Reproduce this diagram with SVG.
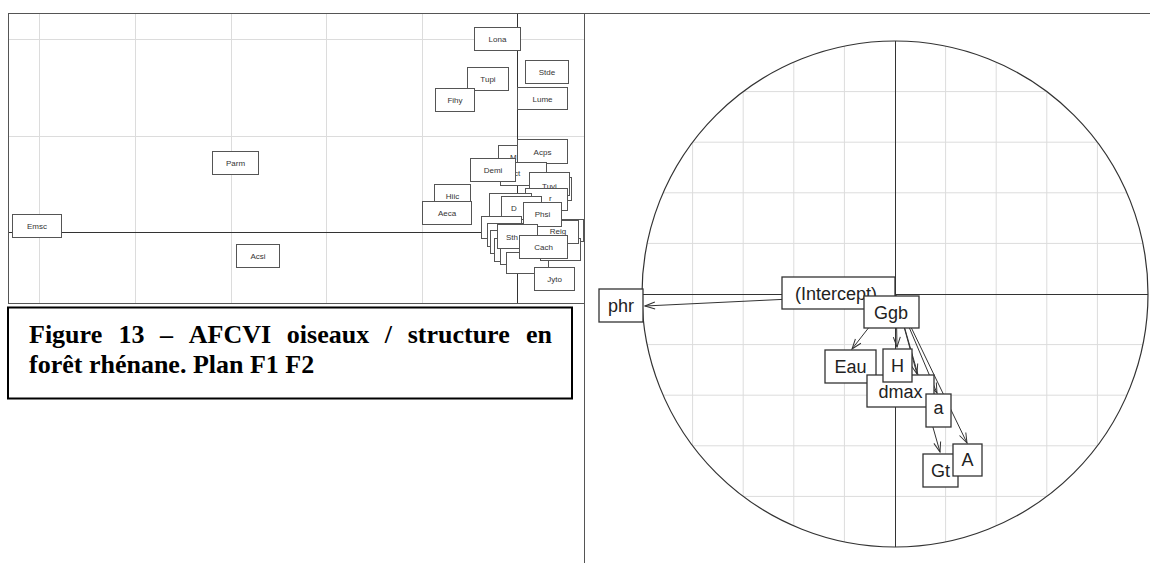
<svg xmlns="http://www.w3.org/2000/svg" width="1150" height="563" viewBox="0 0 1150 563">
  <style>
    .grid { stroke: #dcdcdc; stroke-width: 1; fill: none; }
    .axis { stroke: #333; stroke-width: 1; fill: none; }
    .frame { stroke: #555; stroke-width: 1; fill: none; }
    .lb { fill: #fff; stroke: #555; stroke-width: 1; }
    .lt { font-family: "Liberation Sans", Arial, sans-serif; font-size: 8px; fill: #333; text-anchor: middle; }
    .lf { font-family: "Liberation Sans", Arial, sans-serif; font-size: 8px; fill: #333; }
    .rb { fill: #fff; stroke: #333; stroke-width: 1.3; }
    .rt { font-family: "Liberation Sans", Arial, sans-serif; font-size: 18px; fill: #222; text-anchor: middle; }
    .arr { stroke: #333; stroke-width: 1; fill: none; marker-end: url(#head); }
    .cap { font-family: "Liberation Serif", "Times New Roman", serif; font-size: 26px; font-weight: bold; fill: #000; }
  </style>
  <defs>
    <marker id="head" markerUnits="userSpaceOnUse" viewBox="-11 -5 12 10" refX="0" refY="0" markerWidth="12" markerHeight="10" orient="auto">
      <path d="M-10,-3.5 L0,0 L-10,3.5" fill="none" stroke="#333" stroke-width="1"/>
    </marker>
    <clipPath id="disc">
      <circle cx="895" cy="294" r="253"/>
    </clipPath>
  </defs>

  <rect width="1150" height="563" fill="#fff"/>

  <!-- ============ Left plot: factorial map F1 x F2 ============ -->
  <g id="left-plot">
    <g id="left-grid" class="grid">
      <line x1="39.5" y1="14" x2="39.5" y2="303"/>
      <line x1="135.5" y1="14" x2="135.5" y2="303"/>
      <line x1="231.5" y1="14" x2="231.5" y2="303"/>
      <line x1="326.5" y1="14" x2="326.5" y2="303"/>
      <line x1="422.5" y1="14" x2="422.5" y2="303"/>
      <line x1="8" y1="39.5" x2="584" y2="39.5"/>
      <line x1="8" y1="136.5" x2="584" y2="136.5"/>
    </g>
    <g id="left-axes" class="axis">
      <line x1="8" y1="232.5" x2="584" y2="232.5"/>
      <line x1="517.5" y1="13" x2="517.5" y2="303"/>
    </g>
    <g id="left-frame" class="frame">
      <line x1="8.5" y1="13" x2="8.5" y2="303.5"/>
      <line x1="8" y1="303.5" x2="584" y2="303.5"/>
    </g>
  </g>

  <g id="species-labels">
    <g id="n-Lona"><rect class="lb" x="474.5" y="27.5" width="46" height="23"/><text class="lt" x="497.5" y="42">Lona</text></g>
    <g id="n-Stde"><rect class="lb" x="525.5" y="60.5" width="43" height="23"/><text class="lt" x="547" y="75">Stde</text></g>
    <g id="n-Tupi"><rect class="lb" x="467.5" y="67.5" width="41" height="23"/><text class="lt" x="488" y="82">Tupi</text></g>
    <g id="n-Fihy"><rect class="lb" x="435.5" y="88.5" width="39" height="23"/><text class="lt" x="455" y="103">Fihy</text></g>
    <g id="n-Lume"><rect class="lb" x="517.5" y="87.5" width="50" height="22"/><text class="lt" x="542.5" y="101.5">Lume</text></g>
    <g id="n-Parm"><rect class="lb" x="212.5" y="151.5" width="46" height="23"/><text class="lt" x="235.5" y="166">Parm</text></g>
    <g id="n-Emsc"><rect class="lb" x="12.5" y="214.5" width="49" height="23"/><text class="lt" x="37" y="229">Emsc</text></g>
    <g id="n-Acsi"><rect class="lb" x="236.5" y="244.5" width="43" height="23"/><text class="lt" x="258" y="259">Acsi</text></g>
    <g id="n-Hiic"><rect class="lb" x="434.5" y="184.5" width="36" height="22"/><text class="lt" x="452.5" y="199">Hiic</text></g>
    <g id="n-Aeca"><rect class="lb" x="422.5" y="201.5" width="49" height="23"/><text class="lt" x="447" y="216">Aeca</text></g>

    <!-- dense cluster near the origin, drawn back to front -->
    <g id="n-M"><rect class="lb" x="498.5" y="145.5" width="44" height="23"/><text class="lf" x="510" y="160">M</text></g>
    <g id="n-Acps"><rect class="lb" x="517.5" y="139.5" width="50" height="24"/><text class="lt" x="542.5" y="154.5">Acps</text></g>
    <g id="n-ct"><rect class="lb" x="500.5" y="162.5" width="46" height="23"/><text class="lf" x="514" y="176">ct</text></g>
    <g id="n-Demi"><rect class="lb" x="470.5" y="158.5" width="45" height="23"/><text class="lt" x="493" y="173">Demi</text></g>
    <g id="n-c1"><rect class="lb" x="531.5" y="177.5" width="40" height="23"/></g>
    <g id="n-Tuvi"><rect class="lb" x="529.5" y="172.5" width="40" height="23"/><text class="lt" x="549.5" y="188.5">Tuvi</text></g>
    <g id="n-r"><rect class="lb" x="525.5" y="188.5" width="42" height="22"/><text class="lf" x="549" y="201">r</text></g>
    <g id="n-c2"><rect class="lb" x="489.5" y="193.5" width="42" height="23"/></g>
    <g id="n-D"><rect class="lb" x="501.5" y="196.5" width="40" height="23"/><text class="lf" x="511" y="211">D</text></g>
    <g id="n-c3"><rect class="lb" x="481.5" y="216.5" width="40" height="22"/></g>
    <g id="n-c4"><rect class="lb" x="487.5" y="223.5" width="40" height="23"/></g>
    <g id="n-c5"><rect class="lb" x="490.5" y="230.5" width="40" height="23"/></g>
    <g id="n-c6"><rect class="lb" x="494.5" y="238.5" width="40" height="23"/></g>
    <g id="n-c7"><rect class="lb" x="500.5" y="242.5" width="44" height="22"/></g>
    <g id="n-c8"><rect class="lb" x="506.5" y="252.5" width="42" height="21"/></g>
    <g id="n-c9"><rect class="lb" x="544.5" y="219.5" width="39" height="22"/></g>
    <g id="n-c10"><rect class="lb" x="540.5" y="238.5" width="40" height="22"/></g>
    <g id="n-Reig"><rect class="lb" x="537.5" y="220.5" width="41" height="23"/><text class="lt" x="558" y="234">Reig</text></g>
    <g id="n-Phsi"><rect class="lb" x="523.5" y="202.5" width="38" height="24"/><text class="lt" x="542.5" y="217">Phsi</text></g>
    <g id="n-St"><rect class="lb" x="497.5" y="224.5" width="40" height="24"/><text class="lf" x="506" y="240">Sth</text></g>
    <g id="n-Cach"><rect class="lb" x="519.5" y="235.5" width="48" height="23"/><text class="lt" x="543.5" y="250">Cach</text></g>
    <g id="n-Jyto"><rect class="lb" x="534.5" y="267.5" width="40" height="23"/><text class="lt" x="554.5" y="282">Jyto</text></g>
  </g>

  <!-- ============ Caption ============ -->
  <g id="caption">
    <rect x="8" y="307.5" width="564" height="91" fill="#fff" stroke="#000" stroke-width="2"/>
    <text class="cap" y="343">
      <tspan x="29">Figure</tspan><tspan x="118.4">13</tspan><tspan x="160.1">–</tspan><tspan x="188.8">AFCVI</tspan><tspan x="286.8">oiseaux</tspan><tspan x="384.8">/</tspan><tspan x="407.7">structure</tspan><tspan x="525.9">en</tspan>
    </text>
    <text class="cap" x="29" y="373">forêt rhénane. Plan F1 F2</text>
  </g>

  <!-- ============ Panel frame ============ -->
  <g id="frame" class="frame">
    <line x1="8" y1="13.5" x2="1150" y2="13.5"/>
    <line x1="584.5" y1="13" x2="584.5" y2="563"/>
  </g>

  <!-- ============ Right plot: correlation circle ============ -->
  <g id="right-plot">
    <g id="circle-grid" class="grid" clip-path="url(#disc)">
      <line x1="692.6" y1="30" x2="692.6" y2="560"/>
      <line x1="743.2" y1="30" x2="743.2" y2="560"/>
      <line x1="793.8" y1="30" x2="793.8" y2="560"/>
      <line x1="844.4" y1="30" x2="844.4" y2="560"/>
      <line x1="945.6" y1="30" x2="945.6" y2="560"/>
      <line x1="996.2" y1="30" x2="996.2" y2="560"/>
      <line x1="1046.8" y1="30" x2="1046.8" y2="560"/>
      <line x1="1097.4" y1="30" x2="1097.4" y2="560"/>
      <line x1="630" y1="91.6" x2="1150" y2="91.6"/>
      <line x1="630" y1="142.2" x2="1150" y2="142.2"/>
      <line x1="630" y1="192.8" x2="1150" y2="192.8"/>
      <line x1="630" y1="243.4" x2="1150" y2="243.4"/>
      <line x1="630" y1="344.6" x2="1150" y2="344.6"/>
      <line x1="630" y1="395.2" x2="1150" y2="395.2"/>
      <line x1="630" y1="445.8" x2="1150" y2="445.8"/>
      <line x1="630" y1="496.4" x2="1150" y2="496.4"/>
    </g>
    <circle cx="895" cy="294" r="253" fill="none" stroke="#333" stroke-width="1.2"/>
    <g id="circle-axes" class="axis">
      <line x1="642" y1="294.5" x2="1148" y2="294.5"/>
      <line x1="895.5" y1="41" x2="895.5" y2="547"/>
    </g>
  </g>

  <g id="connectors">
    <line class="arr" x1="895" y1="294" x2="645" y2="306"/>
    <line class="arr" x1="895" y1="294" x2="852" y2="349"/>
    <line class="arr" x1="896" y1="294" x2="897" y2="347"/>
    <line class="arr" x1="895" y1="294" x2="917" y2="374"/>
    <line class="arr" x1="895" y1="294" x2="937" y2="393"/>
    <line class="arr" x1="895" y1="294" x2="940" y2="452"/>
    <line class="arr" x1="895" y1="294" x2="967" y2="443"/>
  </g>

  <g id="variable-labels">
    <g id="v-phr"><rect class="rb" x="599" y="289" width="44" height="33"/><text class="rt" x="621" y="312">phr</text></g>
    <g id="v-intercept"><rect class="rb" x="782" y="277" width="113" height="32"/><text class="rt" x="836" y="300">(Intercept)</text></g>
    <g id="v-Ggb"><rect class="rb" x="864" y="296" width="55" height="32"/><text class="rt" x="891" y="318.5">Ggb</text></g>
    <g id="v-Eau"><rect class="rb" x="825" y="350" width="51" height="33"/><text class="rt" x="850.5" y="373">Eau</text></g>
    <g id="v-dmax"><rect class="rb" x="867" y="375" width="67" height="32"/><text class="rt" x="900.5" y="397.5">dmax</text></g>
    <g id="v-H"><rect class="rb" x="883" y="349" width="29" height="33"/><text class="rt" x="897.5" y="372">H</text></g>
    <g id="v-a"><rect class="rb" x="926" y="394" width="25" height="33"/><text class="rt" x="938.5" y="414">a</text></g>
    <g id="v-Gt"><rect class="rb" x="923" y="454" width="35" height="33"/><text class="rt" x="940.5" y="477">Gt</text></g>
    <g id="v-A"><rect class="rb" x="953" y="444" width="29" height="32"/><text class="rt" x="967.5" y="466">A</text></g>
  </g>
</svg>
